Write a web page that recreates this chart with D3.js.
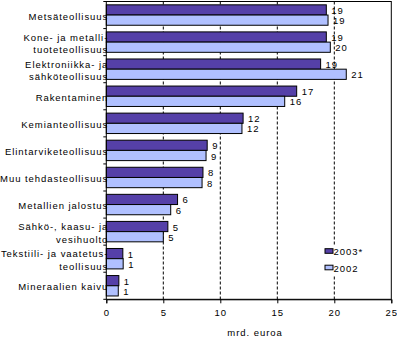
<!DOCTYPE html>
<html><head><meta charset="utf-8">
<script src="https://cdn.jsdelivr.net/npm/d3@7"></script>
<style>
body{margin:0;background:#fff;}
svg text{font-family:"Liberation Sans",Arial,sans-serif;font-size:9.5px;fill:#000;letter-spacing:0.95px;}
</style></head>
<body>
<svg id="c" width="397" height="338"></svg>
<script>
const categories = [
  ["Metsäteollisuus"],
  ["Kone- ja metalli-","tuoteteollisuus"],
  ["Elektroniikka- ja","sähköteollisuus"],
  ["Rakentaminen"],
  ["Kemianteollisuus"],
  ["Elintarviketeollisuus"],
  ["Muu tehdasteollisuus"],
  ["Metallien jalostus"],
  ["Sähkö-, kaasu- ja","vesihuolto"],
  ["Tekstiili- ja vaatetus-","teollisuus"],
  ["Mineraalien kaivu"]
];
const seriesNames = ["2003*","2002"];
const values2003 = [19.3, 19.3, 18.8, 16.7, 12.0, 8.85, 8.48, 6.25, 5.4, 1.45, 1.1];
const values2002 = [19.45, 19.65, 21.05, 15.65, 11.9, 8.75, 8.4, 5.65, 5.0, 1.48, 1.05];
const xTicks = [0,5,10,15,20,25];
const axisTitle = "mrd. euroa";
const colors = ["#5540A8","#B0C0FF"];

const svg = d3.select("#c");
const L = 106.3, R = 391.3, T = 1.5, B = 299.3;
const x = d3.scaleLinear().domain([0,25]).range([L,R]);
const keys = categories.map((c,i)=>i);
const y = d3.scaleBand().domain(keys).range([T,B]).paddingInner(0.246).paddingOuter(0.123);
const ys = d3.scaleBand().domain([0,1]).range([0,y.bandwidth()]);
const series = [values2003, values2002];

// gridlines
svg.append("g").selectAll("line").data(xTicks.filter(t=>t>0&&t<25)).join("line")
  .attr("x1",d=>x(d)).attr("x2",d=>x(d)).attr("y1",T).attr("y2",B)
  .attr("stroke","#000").attr("stroke-width",1).attr("stroke-dasharray","3,2");

// legend background (covers gridline)
const lg = svg.append("g");
lg.append("rect").attr("x",321).attr("y",245).attr("width",52).attr("height",31).attr("fill","#fff");

// bars
series.forEach((vals,si)=>{
  svg.append("g").selectAll("rect").data(vals).join("rect")
    .attr("x",x(0)).attr("y",(d,i)=>y(i)+ys(si))
    .attr("width",d=>x(d)-x(0)).attr("height",ys.bandwidth())
    .attr("fill",colors[si]).attr("stroke","#000").attr("stroke-width",1);
  svg.append("g").selectAll("text").data(vals).join("text")
    .attr("x",d=>x(d)+5).attr("y",(d,i)=>y(i)+ys(si)+ys.bandwidth()/2+0.5)
    .attr("dominant-baseline","central")
    .text(d=>Math.round(d));
});

// plot border
svg.append("rect").attr("x",L).attr("y",T).attr("width",R-L).attr("height",B-T)
  .attr("fill","none").attr("stroke","#000").attr("stroke-width",1);

// x axis
const xa = svg.append("g").attr("transform",`translate(0,${B})`)
  .call(d3.axisBottom(x).tickValues(xTicks).tickSize(4).tickPadding(4).tickFormat(d3.format("d")));
xa.select(".domain").attr("stroke","#000");
xa.selectAll("line").attr("stroke","#000");
xa.selectAll("text").attr("font-family","Liberation Sans, Arial, sans-serif").attr("font-size","9.5px").attr("dy","0.9em");

// y axis ticks at band boundaries
const bounds = d3.range(categories.length+1).map(i=>T + i*(B-T)/categories.length);
svg.append("g").selectAll("line").data(bounds).join("line")
  .attr("x1",L-3).attr("x2",L).attr("y1",d=>d).attr("y2",d=>d).attr("stroke","#000");

// category labels
const cl = svg.append("g");
categories.forEach((lines,i)=>{
  const cy = y(i)+y.bandwidth()/2+1;
  const n = lines.length;
  lines.forEach((t,j)=>{
    cl.append("text").attr("x",L+2).attr("y",cy+(j-(n-1)/2)*12.6 + (n>1?0.4:0))
      .attr("text-anchor","end").attr("dominant-baseline","central").text(t);
  });
});

// legend
const legY = [251, 267.5];
seriesNames.forEach((s,i)=>{
  lg.append("rect").attr("x",325).attr("y",legY[i]-2.3).attr("width",8).attr("height",4.6)
    .attr("fill",colors[i]).attr("stroke","#000").attr("stroke-width",1);
  lg.append("text").attr("x",333.5).attr("y",legY[i]+0.5).attr("dominant-baseline","central").text(s);
});

// axis title
svg.append("text").attr("x",255).attr("y",332).attr("text-anchor","middle")
  .attr("dominant-baseline","central").text(axisTitle);
</script>
</body></html>
